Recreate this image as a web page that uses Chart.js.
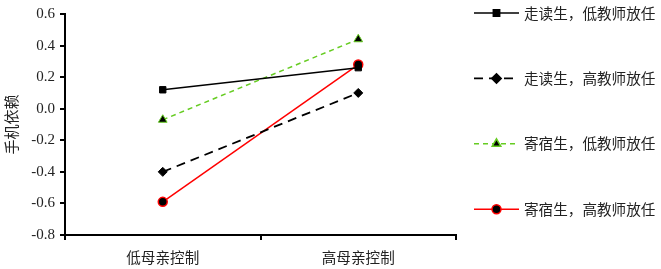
<!DOCTYPE html>
<html>
<head>
<meta charset="utf-8">
<script src="https://cdn.jsdelivr.net/npm/chart.js@4.4.1/dist/chart.umd.min.js"></script>
<style>
html,body{margin:0;padding:0;background:#fff;}
#wrap{width:661px;height:269px;position:relative;}
</style>
</head>
<body>
<div id="wrap"><canvas id="c" width="661" height="269"></canvas></div>
<script>
const categories = ["低母亲控制", "高母亲控制"];
const seriesNames = ["走读生，低教师放任", "走读生，高教师放任", "寄宿生，低教师放任", "寄宿生，高教师放任"];
const dayLowTeacher = [0.12, 0.26];
const dayHighTeacher = [-0.40, 0.10];
const boardLowTeacher = [-0.07, 0.44];
const boardHighTeacher = [-0.59, 0.28];
const yTicks = [0.6, 0.4, 0.2, 0.0, -0.2, -0.4, -0.6, -0.8];
const yAxisTitle = "手机依赖";

const CJK = "'Noto Sans CJK SC', 'Noto Sans', sans-serif";
const SERIF = "'Liberation Serif', 'DejaVu Serif', serif";

const legendPlugin = {
  id: 'sideLegend',
  afterDraw(chart) {
    const ctx = chart.ctx;
    const x0 = 474, x1 = 519, tx = 524;
    chart.data.datasets.forEach((ds, i) => {
      const y = 13 + i * 65.4;
      ctx.save();
      ctx.strokeStyle = ds.borderColor;
      ctx.lineWidth = ds.borderWidth;
      ctx.setLineDash(ds.borderDash || []);
      ctx.beginPath();
      ctx.moveTo(x0, y);
      ctx.lineTo(x1, y);
      ctx.stroke();
      ctx.setLineDash([]);
      ctx.fillStyle = ds.pointBackgroundColor;
      ctx.strokeStyle = ds.pointBorderColor;
      Chart.helpers.drawPoint(ctx, {
        pointStyle: ds.pointStyle,
        radius: ds.pointRadius,
        rotation: 0,
        borderWidth: ds.pointBorderWidth
      }, (x0 + x1) / 2, y);
      ctx.fillStyle = '#222';
      ctx.font = "14.6px " + CJK;
      ctx.textBaseline = 'middle';
      ctx.textAlign = 'left';
      ctx.fillText(ds.label, tx, y);
      ctx.restore();
    });
  }
};

new Chart(document.getElementById('c'), {
  type: 'line',
  data: {
    labels: categories,
    datasets: [
      {label: seriesNames[0], data: dayLowTeacher, borderColor: '#000', borderWidth: 1.5,
       pointStyle: 'rect', pointRadius: 4.5, pointBackgroundColor: '#000', pointBorderColor: '#000', pointBorderWidth: 1},
      {label: seriesNames[1], data: dayHighTeacher, borderColor: '#000', borderWidth: 1.8, borderDash: [9, 6],
       pointStyle: 'rectRot', pointRadius: 4.5, pointBackgroundColor: '#000', pointBorderColor: '#000', pointBorderWidth: 1},
      {label: seriesNames[2], data: boardLowTeacher, borderColor: '#66cc22', borderWidth: 1.5, borderDash: [5, 4],
       pointStyle: 'triangle', pointRadius: 5, pointBackgroundColor: '#000', pointBorderColor: '#66cc22', pointBorderWidth: 1},
      {label: seriesNames[3], data: boardHighTeacher, borderColor: '#ff0000', borderWidth: 1.5,
       pointStyle: 'circle', pointRadius: 4.5, pointBackgroundColor: '#000', pointBorderColor: '#ff0000', pointBorderWidth: 1.5}
    ]
  },
  options: {
    responsive: false,
    animation: false,
    layout: {padding: {top: 10, right: 205, bottom: 0, left: 0}},
    plugins: {legend: {display: false}, tooltip: {enabled: false}},
    elements: {line: {tension: 0}},
    scales: {
      x: {
        type: 'category',
        offset: true,
        grid: {offset: true, drawOnChartArea: false, drawTicks: true, tickLength: 5, color: '#000', lineWidth: 2},
        border: {display: true, color: '#000', width: 2},
        ticks: {color: '#222', font: {family: CJK, size: 14.6}, padding: 9},
        afterFit(scale) { scale.height = 34; }
      },
      y: {
        min: -0.8, max: 0.6,
        afterBuildTicks(scale) { scale.ticks = yTicks.map(v => ({value: v})); },
        grid: {drawOnChartArea: false, drawTicks: true, tickLength: 5, color: '#000', lineWidth: 2},
        border: {display: true, color: '#000', width: 2},
        ticks: {color: '#222', font: {family: SERIF, size: 15}, padding: 5,
                callback: v => Number(v).toFixed(1)},
        title: {display: true, text: yAxisTitle, color: '#222', font: {family: CJK, size: 15}, padding: {top: 2, bottom: 0}},
        afterFit(scale) { scale.width = 65; }
      }
    }
  },
  plugins: [legendPlugin]
});
</script>
</body>
</html>
